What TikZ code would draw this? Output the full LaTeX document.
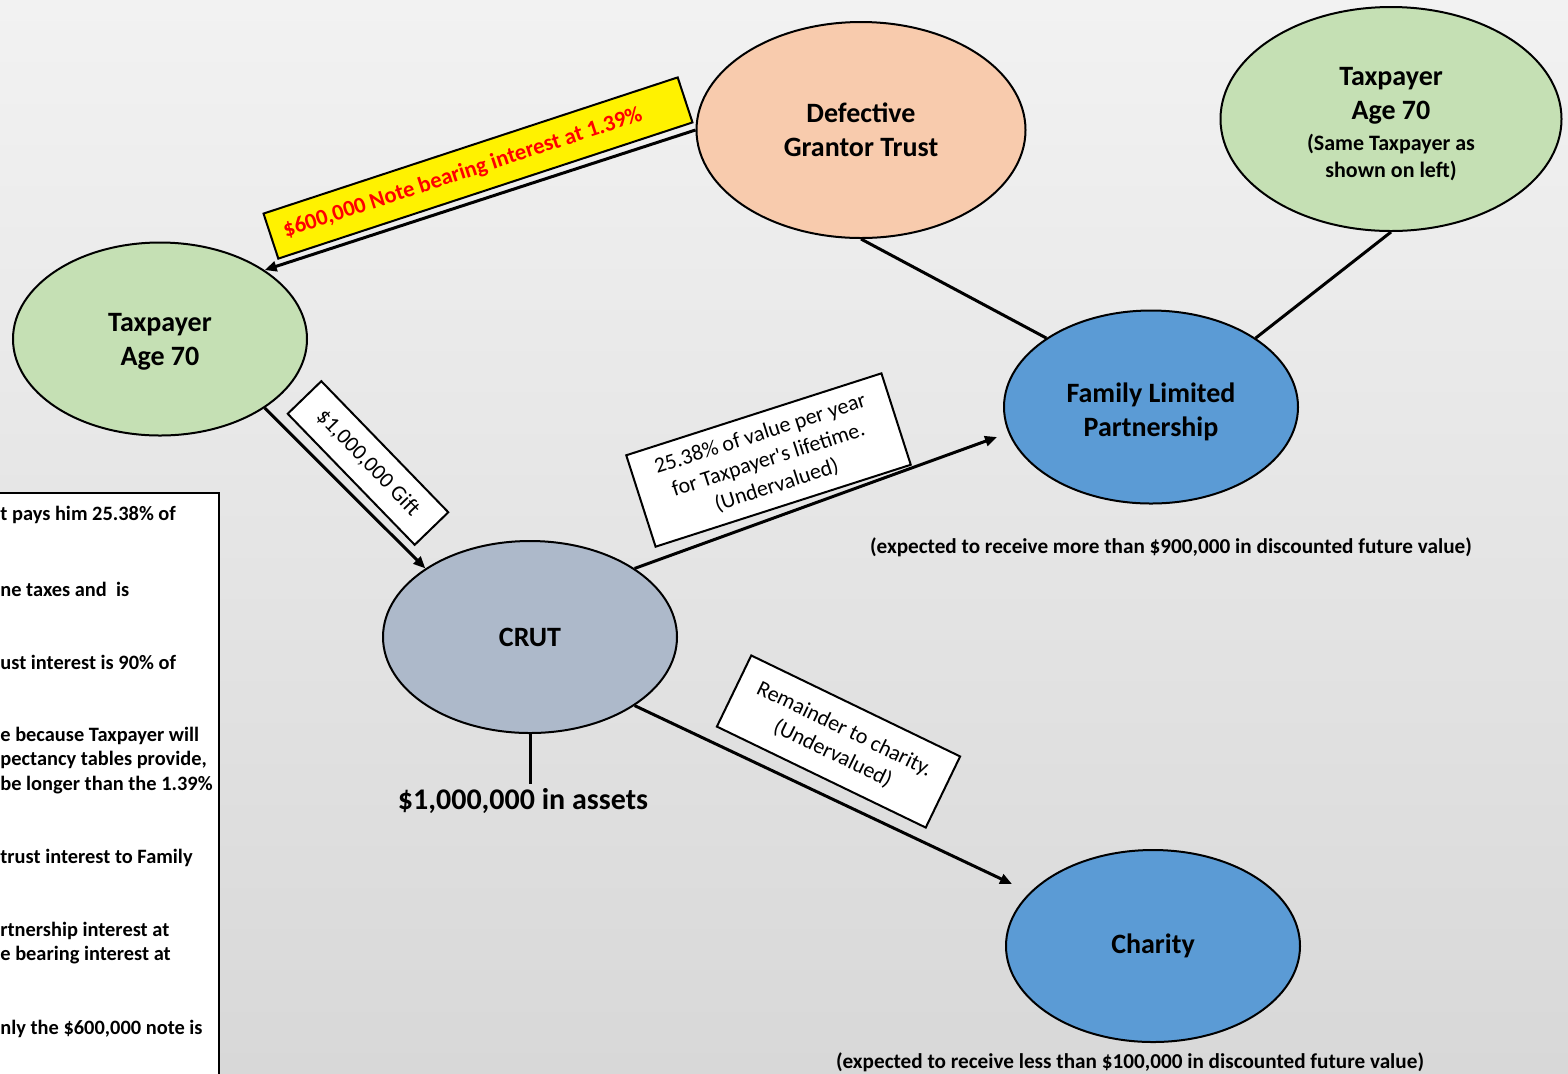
\documentclass[tikz,border=0pt]{standalone}
\usepackage{fontspec}
\setmainfont{Carlito}
\usetikzlibrary{shapes.geometric,arrows.meta}
\definecolor{taxgreen}{RGB}{197,224,180}
\definecolor{trustpeach}{RGB}{248,203,173}
\definecolor{flpblue}{RGB}{91,155,213}
\definecolor{crutgray}{RGB}{173,185,202}
\definecolor{bgtop}{RGB}{242,242,242}
\definecolor{bgbottom}{RGB}{216,216,216}

\tikzset{
  party/.style={ellipse, draw, line width=1pt, inner sep=0pt, align=center,
    font=\fontsize{14}{17}\selectfont\bfseries},
  flow/.style={line width=1.5pt, -{Triangle[length=6pt,width=5pt]}},
  link/.style={line width=1.5pt},
  tag/.style={draw, fill=white, line width=1pt, inner sep=0pt, align=center,
    font=\fontsize{11}{13.5}\selectfont},
  expect/.style={font=\fontsize{10.6}{12}\selectfont\bfseries},
}

\begin{document}
\begin{tikzpicture}[x=0.5pt, y=-0.5pt]
  % Background
  \clip (0,0) rectangle (1568,1073);
  \shade[top color=bgtop, bottom color=bgbottom] (0,0) rectangle (1568,1073);

  % Notes on the left
  \draw[fill=white, line width=1pt] (-10,493) rectangle (219,1090);
  \foreach \y/\txt [count=\i] in {
      515/{t pays him 25.38\% of},
      589/{ne taxes and\ \ is},
      662/{ust interest is 90\% of},
      736/{e because Taxpayer will},
      760/{pectancy tables provide,},
      785/{be longer than the 1.39\%},
      858/{trust interest to Family},
      931/{rtnership interest at},
      955/{e bearing interest at},
      1029/{nly the \$600,000 note is}} {
    \node[anchor=west, inner sep=0pt, font=\fontsize{10.2}{12}\selectfont\bfseries]
      (note\i) at (0,\y) {\txt};
  }

  % Parties
  \node[party, fill=taxgreen, minimum width=147pt, minimum height=96.5pt]
    (taxpayer) at (160,339) {\rule{0pt}{12pt}Taxpayer\\Age 70};
  \node[party, fill=trustpeach, minimum width=164.5pt, minimum height=108pt]
    (trust) at (861,130) {Defective\\Grantor Trust};
  \node[party, fill=taxgreen, minimum width=170.5pt, minimum height=112pt]
    (taxpayer2) at (1391,119) {\rule{0pt}{14pt}Taxpayer\\Age 70\\[-1.5pt]
    {\fontsize{11}{13.5}\selectfont (Same Taxpayer as}\\[-3.5pt]
    {\fontsize{11}{13.5}\selectfont shown on left)}};
  \node[party, fill=flpblue, minimum width=147pt, minimum height=96.5pt]
    (flp) at (1151,407) {\rule{0pt}{14.5pt}Family Limited\\Partnership};
  \node[party, fill=crutgray, minimum width=147pt, minimum height=96pt]
    (crut) at (530,637) {CRUT};
  \node[party, fill=flpblue, minimum width=147pt, minimum height=96pt]
    (charity) at (1153,946) {Charity};

  % Captions under the parties
  \node[font=\fontsize{15}{18}\selectfont\bfseries, inner sep=2pt]
    (assets) at (523,801) {\$1,000,000 in assets};
  \node[expect] (flpnote) at (1171,547)
    {(expected to receive more than \$900,000 in discounted future value)};
  \node[expect] (charitynote) at (1130,1062)
    {(expected to receive less than \$100,000 in discounted future value)};

  % Flows
  \coordinate (flpin) at (997,437);
  \coordinate (charityin) at (1012,884);
  \draw[flow] (trust.west) -- (taxpayer.north east);
  \draw[flow] (taxpayer.south east) -- (crut.north west);
  \draw[flow] (crut.north east) -- (flpin);
  \draw[flow] (crut.south east) -- (charityin);
  \draw[link] (trust.south) -- (flp.north west);
  \draw[link] (taxpayer2.south) -- (flp.north east);
  \draw[link] (crut.south) -- (crut.south |- assets.north);

  % Labels on the flows
  \node[tag, fill=yellow, text=red, font=\fontsize{11.3}{13.5}\selectfont\bfseries,
    rotate=18.2, minimum width=218pt, minimum height=23.7pt]
    (notetag) at (478,168) {\$600,000 Note bearing interest at 1.39\%\hspace{16pt}};
  \node[tag, rotate=-45.9, minimum width=91.25pt, minimum height=23.4pt]
    (gifttag) at (368,463) {\$1,000,000 Gift};
  \node[tag, rotate=17.8, minimum width=134pt, minimum height=48pt]
    (annuitytag) at (768.5,460)
    {25.38\% of value per year\\for Taxpayer\textquotesingle s lifetime.\\(Undervalued)};
  \node[tag, rotate=-25.8, minimum width=116pt, minimum height=39.5pt]
    (remaindertag) at (838.5,741.5) {Remainder to charity.\\(Undervalued)};
\end{tikzpicture}
\end{document}
